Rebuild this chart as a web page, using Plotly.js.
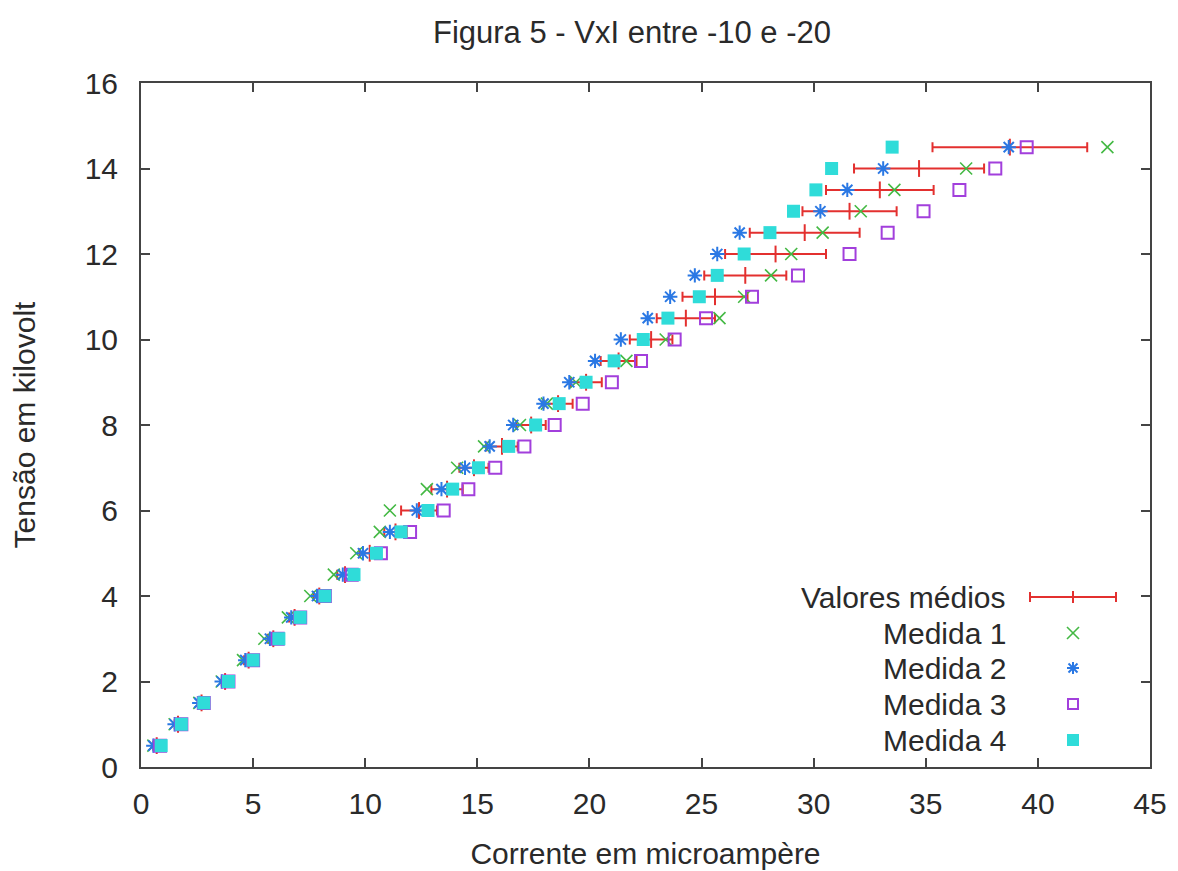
<!DOCTYPE html>
<html>
<head>
<meta charset="utf-8">
<script src="https://cdn.plot.ly/plotly-3.0.1.min.js"></script>
<style>html,body{margin:0;padding:0;background:#fff;}#chart{width:1178px;height:871px;}</style>
</head>
<body>
<div id="chart"></div>
<script>
// Voltage levels (kV)
const tensao = [0.5,1,1.5,2,2.5,3,3.5,4,4.5,5,5.5,6,6.5,7,7.5,8,8.5,9,9.5,10,10.5,11,11.5,12,12.5,13,13.5,14,14.5];

// Current readings (microampere)
const medida1 = [0.55,1.5,2.6,3.6,4.55,5.5,6.55,7.55,8.6,9.6,10.65,11.1,12.75,14.1,15.3,16.9,18.1,19.4,21.65,23.4,25.8,26.9,28.1,29.0,30.4,32.1,33.6,36.8,43.1];
const medida2 = [0.55,1.5,2.6,3.6,4.65,5.75,6.7,7.85,9.0,9.9,11.1,12.3,13.4,14.45,15.55,16.6,17.95,19.1,20.25,21.4,22.6,23.6,24.7,25.7,26.7,30.3,31.5,33.1,38.7];
const medida3 = [0.85,1.8,2.8,3.9,5.0,6.1,7.1,8.2,9.4,10.7,12.0,13.5,14.6,15.8,17.1,18.45,19.7,21.0,22.3,23.8,25.2,27.25,29.3,31.6,33.3,34.9,36.5,38.1,39.5];
const medida4 = [0.9,1.8,2.8,3.9,5.0,6.15,7.1,8.2,9.5,10.5,11.6,12.8,13.9,15.05,16.4,17.6,18.65,19.85,21.1,22.4,23.5,24.9,25.7,26.9,28.05,29.1,30.1,30.8,33.5];

// Mean values and their error bars
const mediaX = [0.7,1.65,2.7,3.75,4.8,5.9,6.85,7.95,9.1,10.2,11.35,12.4,13.65,14.85,16.1,17.4,18.6,19.85,21.3,22.75,24.3,25.6,26.95,28.3,29.6,31.6,32.95,34.7,38.75];
const erroX  = [0.15,0.15,0.1,0.15,0.2,0.25,0.25,0.25,0.35,0.45,0.5,0.8,0.7,0.65,0.7,0.65,0.65,0.7,0.8,0.95,1.3,1.45,1.83,2.25,2.45,2.1,2.4,2.9,3.45];

const legendLabels = ['Valores médios','Medida 1','Medida 2','Medida 3','Medida 4'];

const cRed = '#e3302f', cGreen = '#44b944', cBlue = '#2a78e4', cPurple = '#a23fdc', cCyan = '#2fdcd9';

const traces = [
  {x: mediaX, y: tensao, type:'scatter', mode:'markers', name: legendLabels[0],
   marker:{symbol:'line-ns', size:12, color:cRed, line:{color:cRed, width:2}},
   error_x:{type:'data', array: erroX, visible:true, color:cRed, thickness:2, width:5}},
  {x: medida1, y: tensao, type:'scatter', mode:'markers', name: legendLabels[1],
   marker:{symbol:'x-thin', size:12, color:cGreen, line:{color:cGreen, width:1.6}}},
  {x: medida2, y: tensao, type:'scatter', mode:'markers', name: legendLabels[2],
   marker:{symbol:'asterisk', size:12, color:cBlue, line:{color:cBlue, width:2}}},
  {x: medida3, y: tensao, type:'scatter', mode:'markers', name: legendLabels[3],
   marker:{symbol:'square-open', size:12, color:cPurple, line:{color:cPurple, width:2}}},
  {x: medida4, y: tensao, type:'scatter', mode:'markers', name: legendLabels[4],
   marker:{symbol:'square', size:13, color:cCyan, line:{width:0}}}
];

// plot area in pixels
const L = 141, R = 1150, T = 83, B = 767;
const W = 1178, H = 871;
const px = v => (v - L) / (R - L);
const py = v => (B - v) / (B - T);

const font = {family:'Liberation Sans, Arial, sans-serif', color:'#2a2a2a', size:30};
const titleFont = {family:'Liberation Sans, Arial, sans-serif', color:'#2a2a2a', size:31};

// manual legend (text right-aligned, key on the right)
const rows = [597, 633, 668, 704, 740];
const annotations = legendLabels.map((t,i) => ({
  text: t, xref:'paper', yref:'paper', x: px(1008), y: py(rows[i]),
  xanchor:'right', yanchor:'middle', showarrow:false, font: font
}));
const ln = (x0,y0,x1,y1,color,w) => ({type:'line', xref:'paper', yref:'paper',
  x0:px(x0), y0:py(y0), x1:px(x1), y1:py(y1), line:{color:color, width:w}});
const kx = 1073;
const shapes = [
  ln(1030, rows[0], 1116, rows[0], cRed, 2),
  ln(1030, rows[0]-5, 1030, rows[0]+5, cRed, 2),
  ln(1116, rows[0]-5, 1116, rows[0]+5, cRed, 2),
  ln(kx, rows[0]-6, kx, rows[0]+6, cRed, 2),
  ln(kx-6, rows[1]-6, kx+6, rows[1]+6, cGreen, 1.6),
  ln(kx-6, rows[1]+6, kx+6, rows[1]-6, cGreen, 1.6),
  ln(kx, rows[2]-6, kx, rows[2]+6, cBlue, 2),
  ln(kx-6, rows[2], kx+6, rows[2], cBlue, 2),
  ln(kx-4.5, rows[2]-4.5, kx+4.5, rows[2]+4.5, cBlue, 2),
  ln(kx-4.5, rows[2]+4.5, kx+4.5, rows[2]-4.5, cBlue, 2),
  {type:'rect', xref:'paper', yref:'paper', x0:px(kx-5), x1:px(kx+5), y0:py(rows[3]-5), y1:py(rows[3]+5), line:{color:cPurple, width:2}},
  {type:'rect', xref:'paper', yref:'paper', x0:px(kx-6), x1:px(kx+6), y0:py(rows[4]-6), y1:py(rows[4]+6), fillcolor:cCyan, line:{width:0}}
];

const axisCommon = {
  showgrid:false, zeroline:false, showline:true, mirror:'ticks',
  linecolor:'#444', linewidth:2, ticks:'inside', ticklen:9, tickwidth:2, tickcolor:'#444',
  tickfont: font
};

const layout = {
  width: W, height: H,
  margin:{l:L, r:W-R, t:T, b:H-B},
  paper_bgcolor:'#fff', plot_bgcolor:'#fff',
  showlegend:false,
  title:{text:'Figura 5 - VxI entre -10 e -20', font: titleFont, x: 632/W, xanchor:'center', y: 1-32/H, yanchor:'middle'},
  xaxis: Object.assign({}, axisCommon, {range:[0,45], dtick:5, tick0:0, ticklabelstandoff: 9,
    title:{text:'Corrente em microampère', font: font, standoff: 24}}),
  yaxis: Object.assign({}, axisCommon, {range:[0,16], dtick:2, tick0:0, ticklabelstandoff: 15,
    title:{text:'Tensão em kilovolt', font: font, standoff: 40}}),
  annotations: annotations,
  shapes: shapes
};

Plotly.newPlot('chart', traces, layout, {staticPlot:true, displayModeBar:false});
</script>
</body>
</html>
